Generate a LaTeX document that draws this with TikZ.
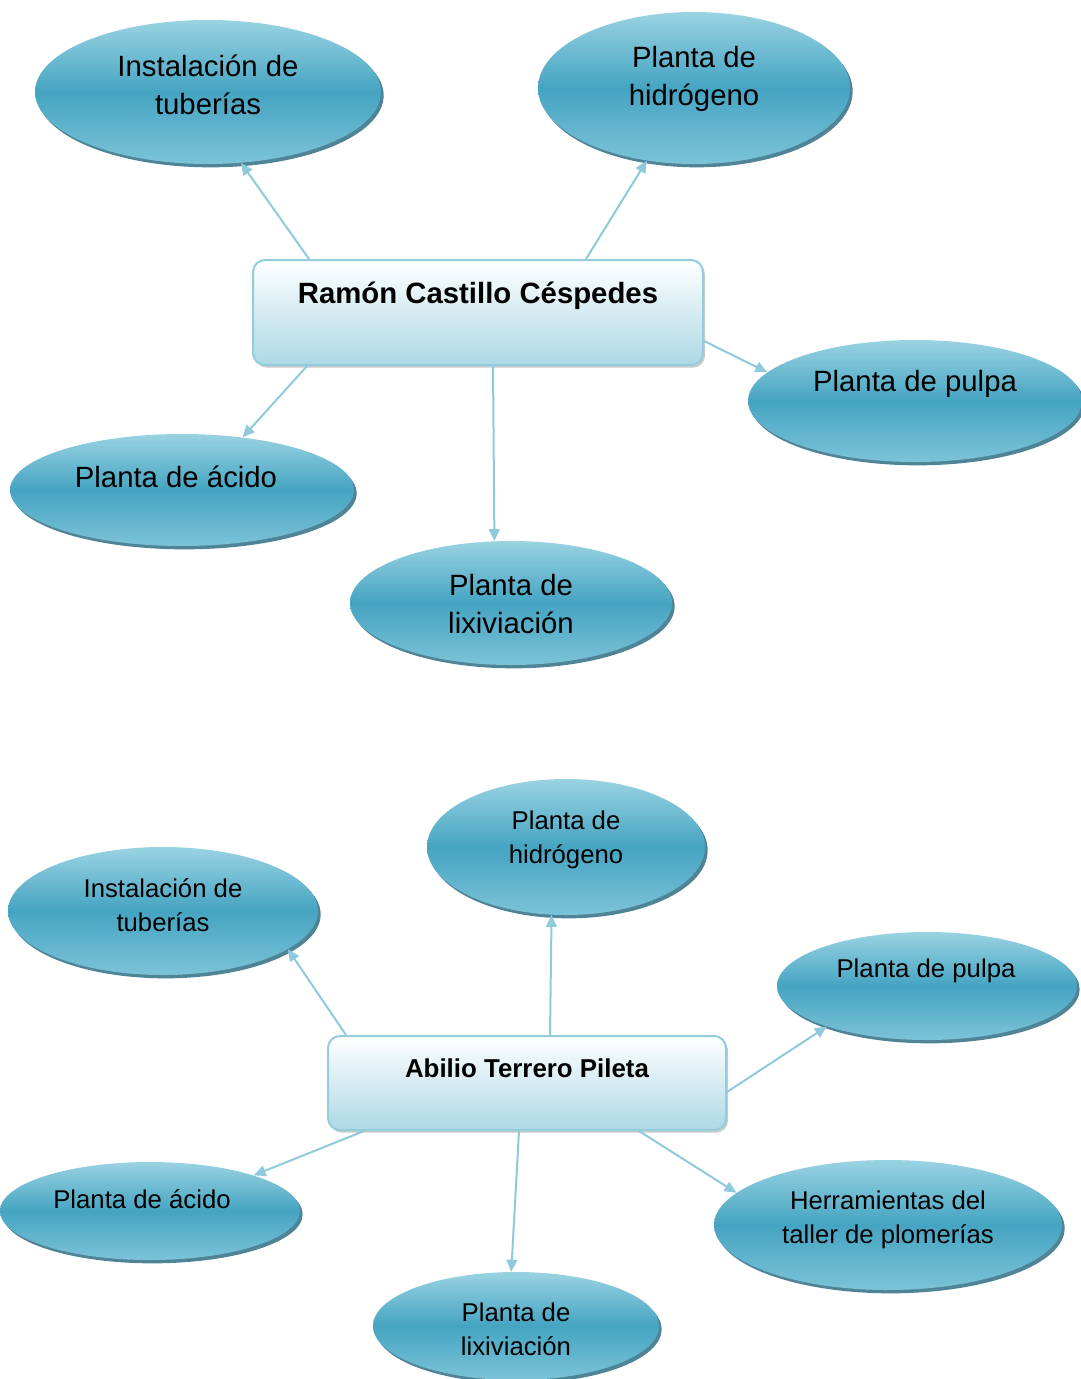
\documentclass[tikz,border=0pt]{standalone}
\usepackage{fontspec}
\setmainfont{Liberation Sans}
\usetikzlibrary{shapes.geometric,shadows,arrows.meta,calc}
\definecolor{elltop}{HTML}{9AD3E2}
\definecolor{ellmid}{HTML}{45A4C2}
\definecolor{ellbot}{HTML}{7CC3D8}
\definecolor{ellshadow}{HTML}{2F6E84}
\definecolor{boxline}{HTML}{93CDDC}
\definecolor{boxbot}{HTML}{ACD8E5}
\definecolor{arrowcol}{HTML}{8ECADB}
\begin{document}
\begin{tikzpicture}[x=0.75pt,y=-0.75pt,
  % ellipse node: #1 = horizontal radius, #2 = vertical radius (px)
  bubble/.style 2 args={ellipse, inner sep=0pt, minimum width=#1*1.5pt, minimum height=#2*1.5pt,
    shading=axis, top color=elltop, bottom color=ellbot, middle color=ellmid, draw=none,
    drop shadow={shadow xshift=2pt, shadow yshift=-2.5pt, fill=ellshadow, opacity=0.85}},
  hub/.style 2 args={rectangle, rounded corners=9pt, inner sep=0pt, minimum width=#1*0.75pt, minimum height=#2*0.75pt,
    shading=axis, top color=white, bottom color=boxbot, draw=boxline, line width=1.5pt,
    drop shadow={shadow xshift=1.5pt, shadow yshift=-2pt, fill=black!35, opacity=0.6}},
  bigtxt/.style={align=center, inner sep=0pt, font=\fontsize{22}{28.5}\selectfont},
  smalltxt/.style={align=center, inner sep=0pt, font=\fontsize{19.3}{25.5}\selectfont},
  link/.style={draw=arrowcol, line width=1.5pt, -{Triangle[length=9pt,width=8pt]}}
]
\useasboundingbox (0,0) rectangle (1081,1379);

% ---------- Ramón Castillo Céspedes ----------
\node[bubble={173}{72}] (a1) at (208,92) {};
\node[bubble={156}{76}] (a2) at (694,88) {};
\node[bubble={167}{61}] (a3) at (915,401) {};
\node[bubble={172}{56}] (a4) at (182,490) {};
\node[bubble={161}{62}] (a5) at (511,603) {};
\node[hub={450}{105}] (ha) at (478,312.5) {};

\node[bigtxt] (a1t) at (208,85) {Instalación de\\tuberías};
\node[bigtxt] (a2t) at (694,79) {Planta de\\hidrógeno};
\node[bigtxt] (a3t) at (915,384) {Planta de pulpa};
\node[bigtxt] (a4t) at (176,477) {Planta de ácido};
\node[bigtxt] (a5t) at (511,604) {Planta de\\lixiviación};
\node[bigtxt, font=\fontsize{22}{28.5}\selectfont\bfseries] (hat) at (478,296) {Ramón Castillo Céspedes};

\draw[link] ($(ha.north west)+(57,0)$) -- (a1.-65);
\draw[link] ($(ha.north west)+(334,0)$) -- (a2.-123);
\draw[link] ($(ha.north east)+(0,82)$) -- (a3.169);
\draw[link] ($(ha.south west)+(55,0)$) -- (a4.41.5);
\draw[link] ($(ha.south west)+(241,0)$) -- (a5.105);

% ---------- Abilio Terrero Pileta ----------
\node[bubble={155}{64}] (b1) at (163,911) {};
\node[bubble={139}{68}] (b2) at (566,847) {};
\node[bubble={150}{54}] (b3) at (927,986) {};
\node[bubble={150}{49}] (b4) at (150,1211) {};
\node[bubble={143}{54}] (b5) at (516,1326) {};
\node[bubble={174}{65}] (b6) at (888,1225) {};
\node[hub={398}{94}] (hb) at (527,1083) {};

\node[smalltxt] (b1t) at (163,905) {Instalación de\\tuberías};
\node[smalltxt] (b2t) at (566,840) {Planta de\\hidrógeno};
\node[smalltxt] (b3t) at (926,971) {Planta de pulpa};
\node[smalltxt] (b4t) at (142,1199) {Planta de ácido};
\node[smalltxt] (b5t) at (516,1329) {Planta de\\lixiviación};
\node[smalltxt] (b6t) at (888,1220) {Herramientas del\\taller de plomerías};
\node[smalltxt, font=\fontsize{19.4}{25.5}\selectfont\bfseries] (hbt) at (527,1068) {Abilio Terrero Pileta};

\draw[link] ($(hb.north west)+(19,0)$) -- (b1.-17);
\draw[link] ($(hb.north west)+(223,0)$) -- (b2.-102);
\draw[link] ($(hb.north east)+(0,57)$) -- (b3.202);
\draw[link] ($(hb.south west)+(37,0)$) -- (b4.19);
\draw[link] ($(hb.south west)+(192,0)$) -- (b5.95);
\draw[link] ($(hb.south west)+(312,0)$) -- (b6.168);
\end{tikzpicture}
\end{document}
